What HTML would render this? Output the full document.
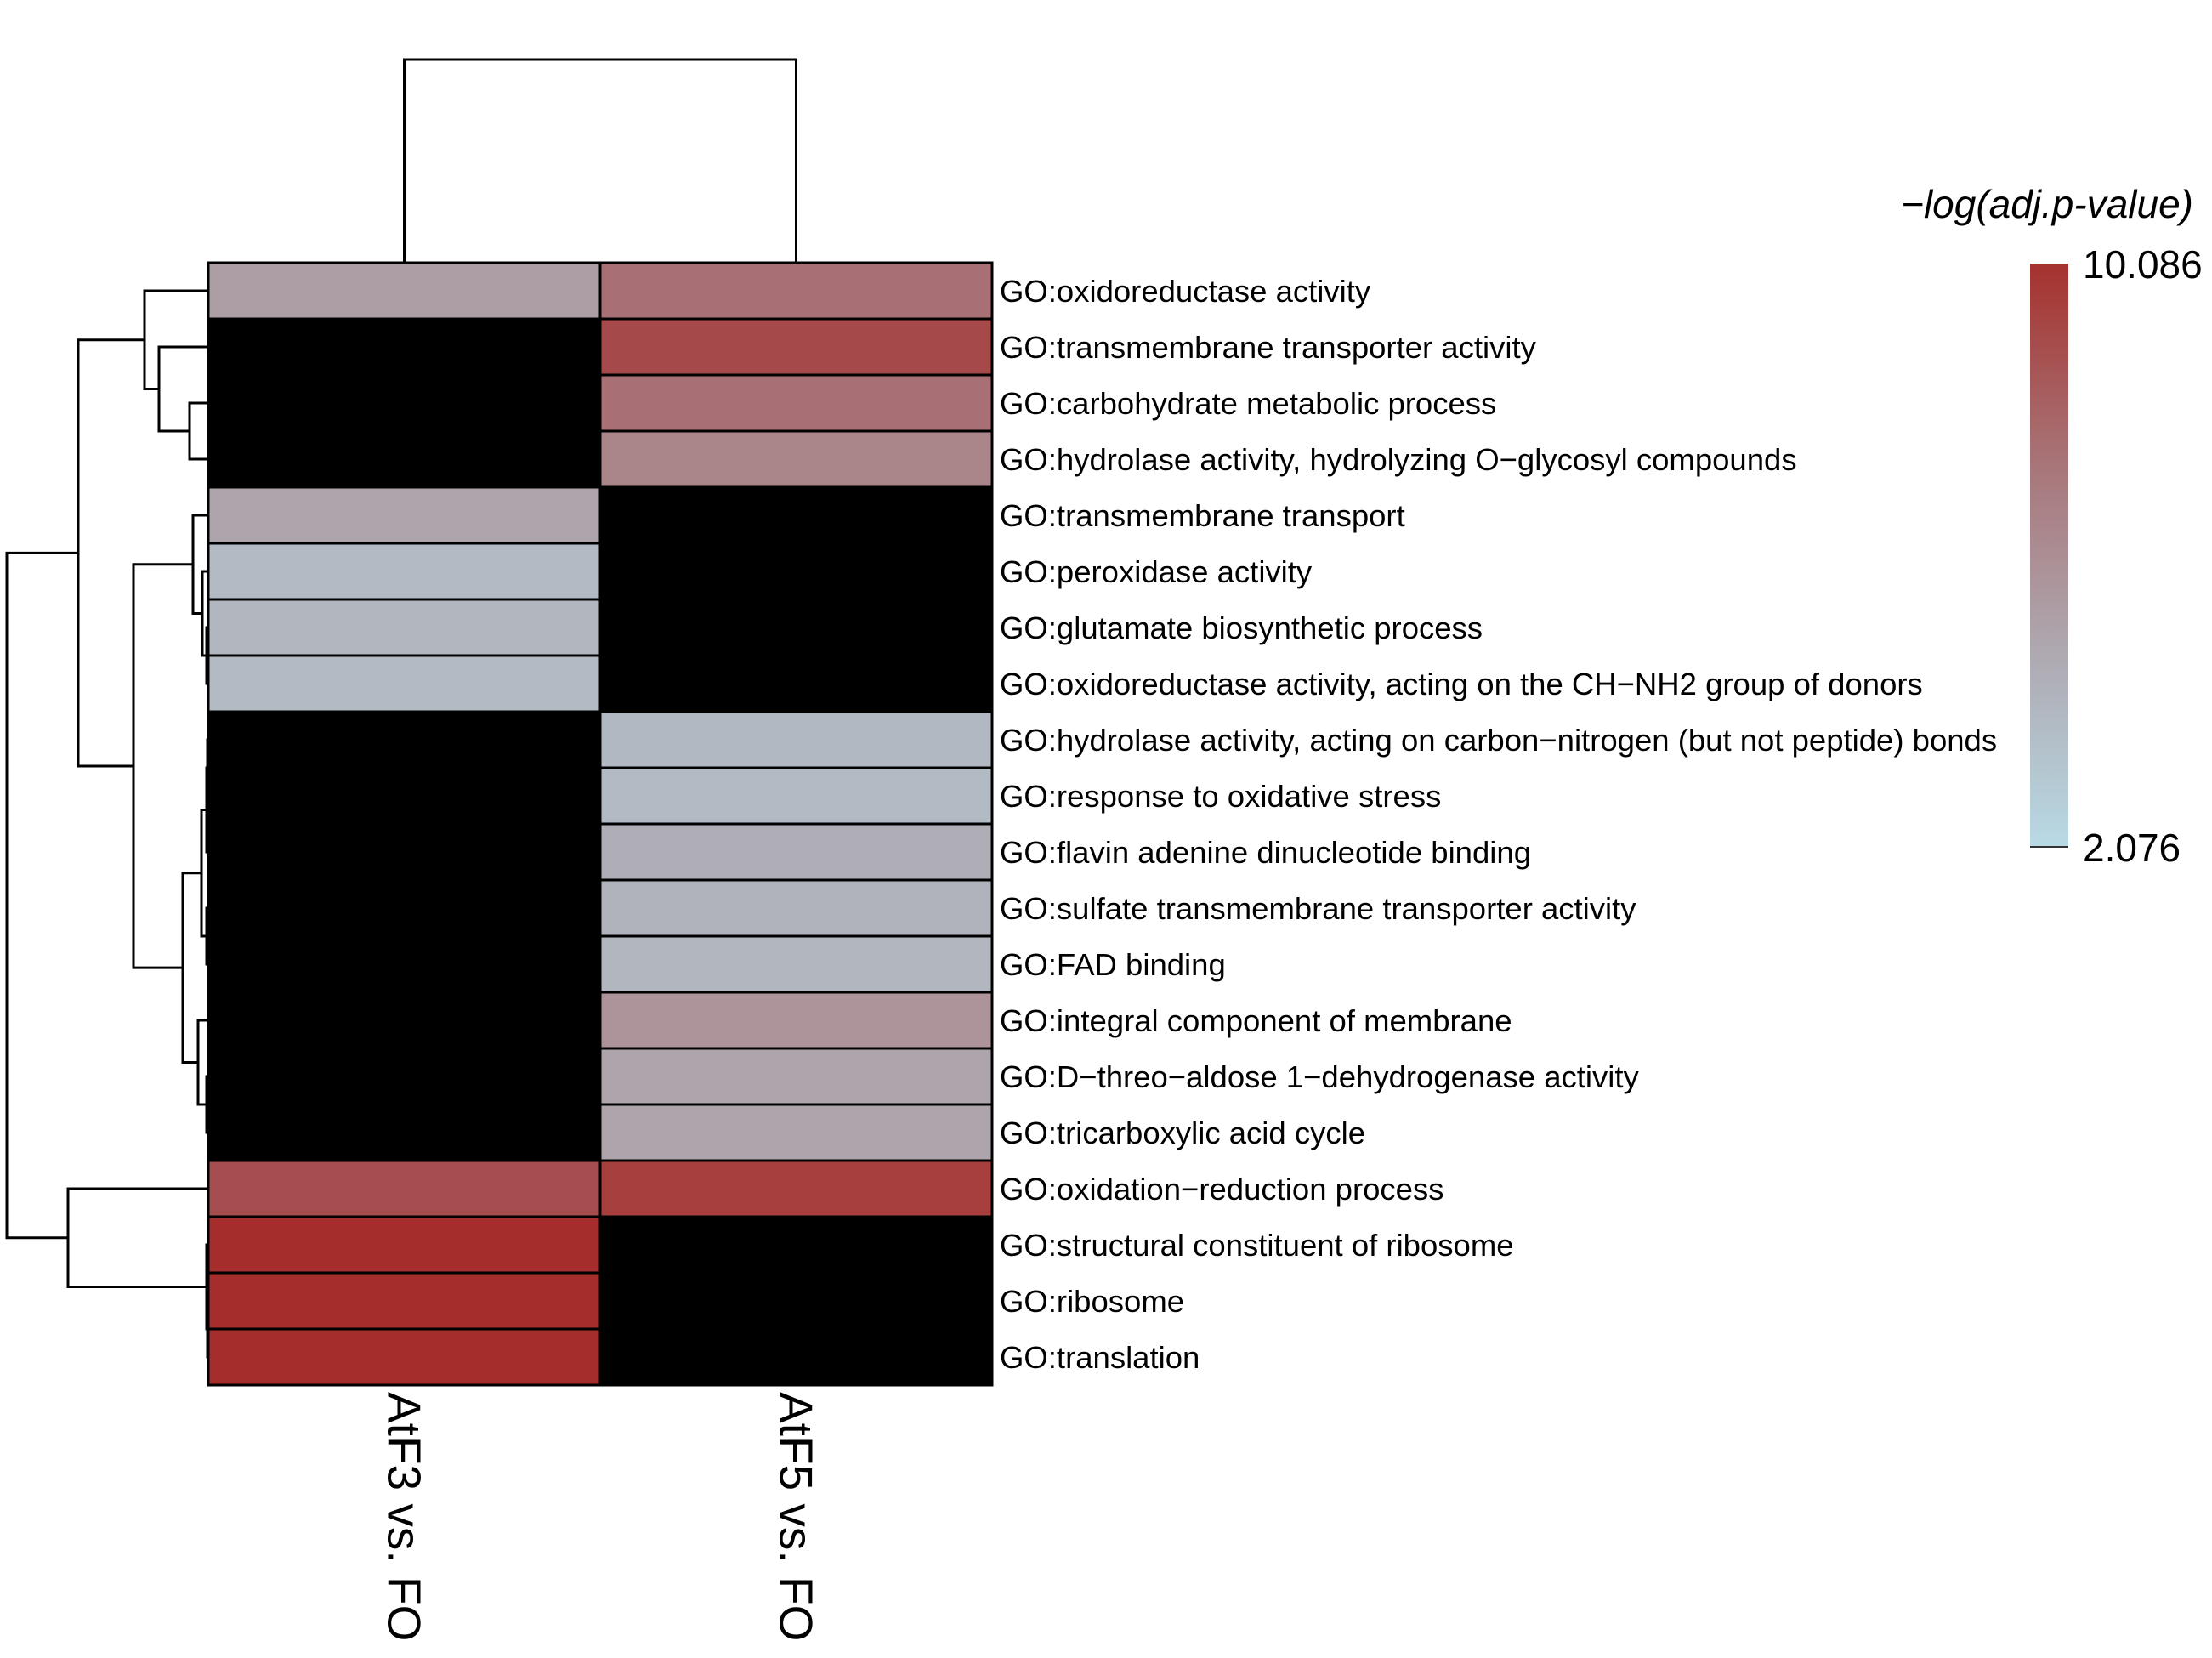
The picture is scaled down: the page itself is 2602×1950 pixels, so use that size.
<!DOCTYPE html>
<html><head><meta charset="utf-8"><style>
html,body{margin:0;padding:0;background:#fff;}
svg{display:block;}
text{font-family:"Liberation Sans",Arial,sans-serif;fill:#000;}
</style></head><body>
<svg id="chart" width="2602" height="1950" viewBox="0 0 2602 1950" xmlns="http://www.w3.org/2000/svg">
<defs><linearGradient id="cbar" x1="0" y1="1" x2="0" y2="0">
<stop offset="0" stop-color="rgb(184,218,229)"/><stop offset="0.35" stop-color="rgb(174,166,174)"/><stop offset="0.65" stop-color="rgb(168,118,122)"/><stop offset="1" stop-color="rgb(165,50,46)"/>
</linearGradient></defs>
<g id="heat"></g>
<g id="rowdend"></g>
<g id="coldend"></g>
<g id="labels"></g>
<g>
<text x="2580" y="256" text-anchor="end" font-size="46" font-style="italic">−log(adj.p-value)</text>
<rect x="2388" y="310" width="45" height="686" fill="url(#cbar)"/>
<line x1="2388" x2="2433" y1="996" y2="996" stroke="#333" stroke-width="2"/>
<text id="lmax" x="2450" y="327" font-size="46">10.086</text>
<text id="lmin" x="2450" y="1013" font-size="46">2.076</text>
</g>
</svg>
<script>
const rowLabels=["GO:oxidoreductase activity","GO:transmembrane transporter activity","GO:carbohydrate metabolic process","GO:hydrolase activity, hydrolyzing O\u2212glycosyl compounds","GO:transmembrane transport","GO:peroxidase activity","GO:glutamate biosynthetic process","GO:oxidoreductase activity, acting on the CH\u2212NH2 group of donors","GO:hydrolase activity, acting on carbon\u2212nitrogen (but not peptide) bonds","GO:response to oxidative stress","GO:flavin adenine dinucleotide binding","GO:sulfate transmembrane transporter activity","GO:FAD binding","GO:integral component of membrane","GO:D\u2212threo\u2212aldose 1\u2212dehydrogenase activity","GO:tricarboxylic acid cycle","GO:oxidation\u2212reduction process","GO:structural constituent of ribosome","GO:ribosome","GO:translation"];
const colLabels=["AtF3 vs. FO","AtF5 vs. FO"];
const valsAtF3=[5.3,null,null,null,5.0,3.8,4.0,3.8,null,null,null,null,null,null,null,null,8.8,10.086,10.086,10.086];
const valsAtF5=[7.5,9.0,7.5,6.5,null,null,null,null,3.9,3.8,4.5,4.2,4.0,5.8,5.0,5.0,9.4,null,null,null];
const scaleMin=2.076, scaleMax=10.086;
// row merges: [a, b, height]; leaves are 0..19, negative = merge index (-1 = first)
const rowMerges=[[2,3,22],[1,-1,58],[0,-2,75],[6,7,2],[5,-4,7],[4,-5,18],[8,9,1],[-7,10,2],[11,12,2],[-8,-9,8],[14,15,2],[13,-11,12],[-10,-12,30],[-6,-13,88],[-3,-14,153],[18,19,1],[17,-16,2],[16,-17,165],[-15,-18,237]];
const colMergeHeight=[239];

const svg=document.getElementById('chart');
const NS='http://www.w3.org/2000/svg';
const L=245,T=309,W=461,H=66.0;
const xCol=i=>L+i*W, yRow=i=>T+i*H;
const stops=[[0,[184,218,229]],[0.35,[174,166,174]],[0.65,[168,118,122]],[1,[165,45,43]]];
function color(v){let f=(v-scaleMin)/(scaleMax-scaleMin);f=Math.max(0,Math.min(1,f));
for(let i=1;i<stops.length;i++){if(f<=stops[i][0]){const a=stops[i-1],b=stops[i];const t=(f-a[0])/(b[0]-a[0]);
return 'rgb('+a[1].map((c,k)=>Math.round(c+(b[1][k]-c)*t)).join(',')+')';}}return 'rgb(165,45,43)';}
function mk(tag,attrs,parent){const e=document.createElementNS(NS,tag);for(const k in attrs)e.setAttribute(k,attrs[k]);parent.appendChild(e);return e;}
const heat=document.getElementById('heat');
[valsAtF3,valsAtF5].forEach((arr,c)=>{arr.forEach((v,r)=>{
const e=mk('rect',{x:xCol(c),y:yRow(r),width:W,height:H,fill:v==null?'#000':color(v),stroke:'#000','stroke-width':3},heat);

});});
const lab=document.getElementById('labels');
rowLabels.forEach((t,r)=>{const e=mk('text',{x:L+2*W+9,y:yRow(r)+H/2+13,'font-size':36.5},lab);e.textContent=t;

});
colLabels.forEach((t,c)=>{const cx=xCol(c)+W/2;const e=mk('text',{x:0,y:0,'font-size':55,transform:'translate('+(cx-19)+','+(T+20*H+8)+') rotate(90)'},svg);e.textContent=t;

});
// row dendrogram
const rd=document.getElementById('rowdend');const pos={},ht={};
function node(n){return n>=0?{y:yRow(n)+H/2,h:0}:{y:pos[-n-1],h:ht[-n-1]};}
rowMerges.forEach((m,i)=>{const a=node(m[0]),b=node(m[1]);const x=L-m[2];
const p=mk('path',{d:'M'+(L-a.h)+','+a.y+'H'+x+'V'+b.y+'H'+(L-b.h),fill:'none',stroke:'#000','stroke-width':3},rd);


pos[i]=(a.y+b.y)/2;ht[i]=m[2];});
// column dendrogram
const cd=document.getElementById('coldend');const y0=T-colMergeHeight[0];
const cp=mk('path',{d:'M'+(xCol(0)+W/2)+','+T+'V'+y0+'H'+(xCol(1)+W/2)+'V'+T,fill:'none',stroke:'#000','stroke-width':3},cd);


</script>
</body></html>
